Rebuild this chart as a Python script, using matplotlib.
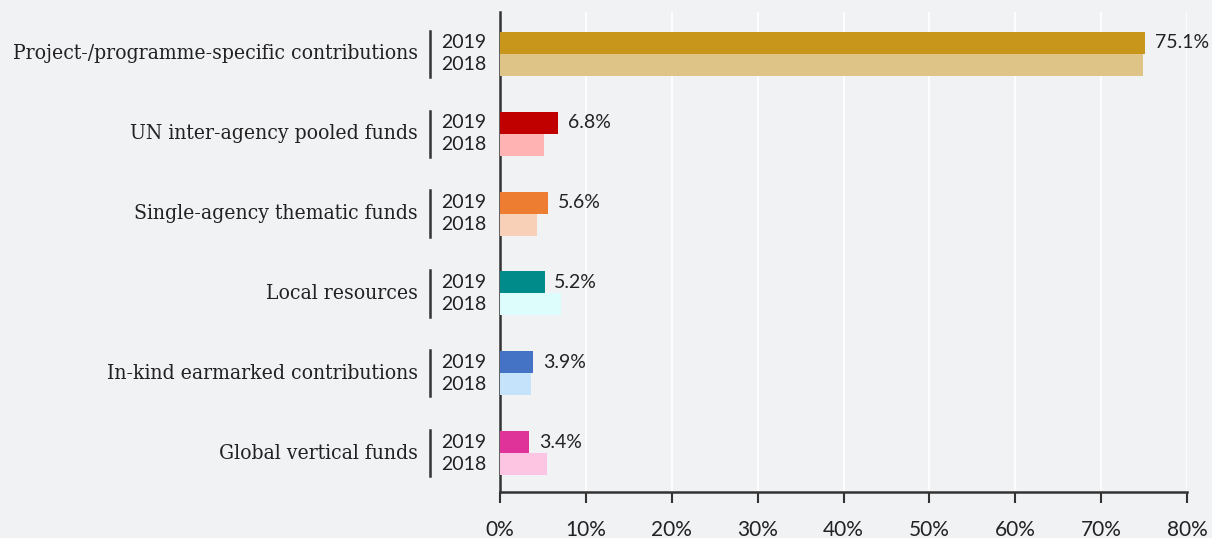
import matplotlib
matplotlib.use("Agg")
import matplotlib.pyplot as plt
import numpy as np

categories = [
    "Project-/programme-specific contributions",
    "UN inter-agency pooled funds",
    "Single-agency thematic funds",
    "Local resources",
    "In-kind earmarked contributions",
    "Global vertical funds",
]
values_2019 = [75.1, 6.8, 5.6, 5.2, 3.9, 3.4]
values_2018 = [74.9, 5.1, 4.3, 7.1, 3.6, 5.5]
labels_2019 = ["75.1%", "6.8%", "5.6%", "5.2%", "3.9%", "3.4%"]
colors_2019 = ["#C8961A", "#C00000", "#ED7D31", "#008B8B", "#4472C4", "#E0339A"]
colors_2018 = ["#DFC488", "#FFB3B3", "#F8D0B8", "#DDFDFD", "#C5E3FB", "#FEC5E2"]
xticks = [0, 10, 20, 30, 40, 50, 60, 70, 80]
xticklabels = ["0%", "10%", "20%", "30%", "40%", "50%", "60%", "70%", "80%"]

bg = "#F1F2F4"
W, H = 1212, 538
fig = plt.figure(figsize=(W / 100, H / 100), dpi=100, facecolor=bg)
ax = fig.add_axes([500 / W, 1 - 492 / H, (1187 - 500) / W, (492 - 12) / H], facecolor=bg)

y = np.arange(len(categories))
h = 0.275
ax.barh(y - h / 2, values_2019, height=h, color=colors_2019, zorder=3)
ax.barh(y + h / 2, values_2018, height=h, color=colors_2018, zorder=3)

ax.set_xlim(0, 80)
ax.set_ylim(5.4875, -0.525)
ax.set_xticks(xticks)
ax.set_xticklabels(xticklabels, fontfamily="Lato", fontsize=15, color="#222222")
ax.tick_params(axis="x", length=8, width=1.5, color="#333333", pad=12)
ax.set_yticks([])
ax.grid(axis="x", color="white", linewidth=1.3, zorder=0)
for s in ["top", "right"]:
    ax.spines[s].set_visible(False)
for s in ["left", "bottom"]:
    ax.spines[s].set_color("#333333")
    ax.spines[s].set_linewidth(1.8)

for i, (v, lab) in enumerate(zip(values_2019, labels_2019)):
    ax.annotate(lab, (v, i - h / 2), xytext=(7, 0), textcoords="offset points",
                va="center", ha="left", fontsize=14, fontfamily="Lato", color="#222222")

for i, cat in enumerate(categories):
    ax.annotate(cat, (0, i), xytext=(-82, 0), textcoords="offset pixels",
                ha="right", va="center", fontsize=15.1, fontfamily="DejaVu Serif",
                fontstretch="condensed",
                color="#222222", annotation_clip=False)
    ax.annotate("2019", (0, i - h / 2), xytext=(-14, 0), textcoords="offset pixels",
                ha="right", va="center", fontsize=14, fontfamily="Lato",
                color="#222222", annotation_clip=False)
    ax.annotate("2018", (0, i + h / 2), xytext=(-14, 0), textcoords="offset pixels",
                ha="right", va="center", fontsize=14, fontfamily="Lato",
                color="#222222", annotation_clip=False)
    ax.plot([-70 / 8.5875, -70 / 8.5875], [i - 0.29, i + 0.29], color="#333333",
            linewidth=1.8, clip_on=False, zorder=4)

fig.savefig("out.png", dpi=100, facecolor=bg)
